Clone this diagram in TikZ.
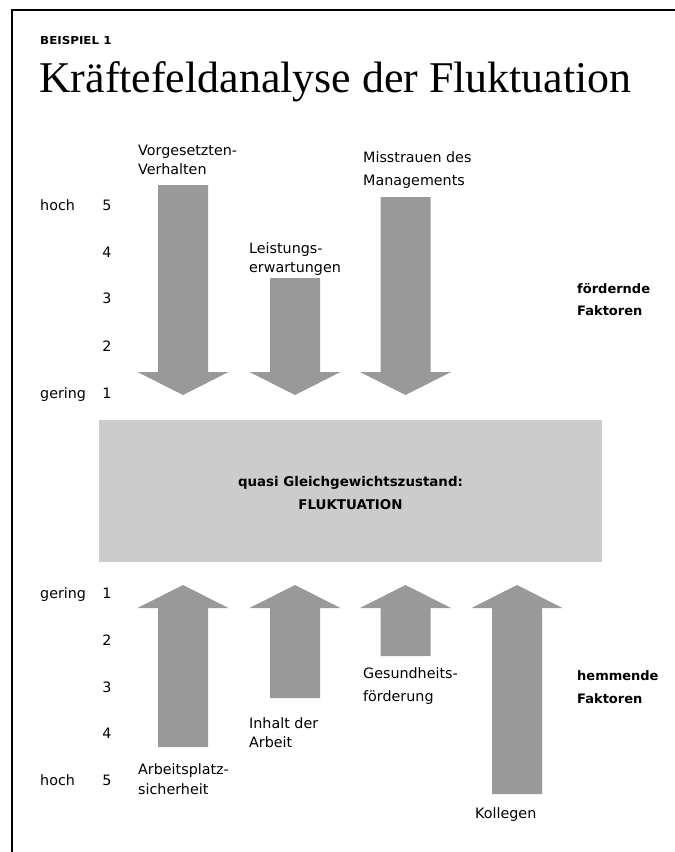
\documentclass[tikz,border=0pt]{standalone}
\usepackage{fontspec}
\setmainfont{Liberation Serif}
\setsansfont{DejaVu Sans}
\definecolor{arrowgray}{HTML}{999999}
\definecolor{boxgray}{HTML}{CCCCCC}
\newcommand\fkdownarrow[2]{%
  \fill[arrowgray] (#1-25,#2) -- (#1+25,#2) -- (#1+25,372) -- (#1+45.5,372)
    -- (#1,395) -- (#1-45.5,372) -- (#1-25,372) -- cycle;}
\newcommand\fkuparrow[2]{%
  \fill[arrowgray] (#1-25,#2) -- (#1+25,#2) -- (#1+25,608) -- (#1+45.5,608)
    -- (#1,585) -- (#1-45.5,608) -- (#1-25,608) -- cycle;}
\tikzset{
  lbl/.style={anchor=base west, inner sep=0pt, font=\sffamily\fontsize{14.3}{17}\selectfont},
  num/.style={anchor=base, inner sep=0pt, font=\sffamily\fontsize{14.3}{17}\selectfont},
  blbl/.style={anchor=base west, inner sep=0pt, font=\sffamily\bfseries\fontsize{13}{16}\selectfont},
  ctr/.style={anchor=base, inner sep=0pt, font=\sffamily\bfseries\fontsize{13.4}{16}\selectfont},
}
\begin{document}
\begin{tikzpicture}[x=1pt,y=-1pt]
\useasboundingbox (0,0) rectangle (675,852);
% frame
\draw[line width=1.2pt] (12,852) -- (12,10) -- (675,10);
% titles
\node[anchor=base west, inner sep=0pt] (kicker) at (40,44)
  {\scalebox{1.08}[1]{\sffamily\bfseries\fontsize{11}{13}\selectfont BEISPIEL 1}};
\node[anchor=base west, inner sep=0pt, font=\fontsize{43.9}{50}\selectfont] (title) at (39,92)
  {Kräftefeldanalyse der Fluktuation};
% top scale
\node[lbl] (th) at (40,210) {hoch};
\node[num] (t5) at (107,210) {5};
\node[num] (t4) at (107,257) {4};
\node[num] (t3) at (107,303) {3};
\node[num] (t2) at (107,351) {2};
\node[lbl] (tg) at (40,398) {gering};
\node[num] (t1) at (107,398) {1};
% top arrows
\fkdownarrow{183}{185}
\fkdownarrow{295}{278}
\fkdownarrow{405.5}{197}
\node[lbl] (a1a) at (138,155) {Vorgesetzten-};
\node[lbl] (a1b) at (138,174) {Verhalten};
\node[lbl] (a2a) at (249,253) {Leistungs-};
\node[lbl] (a2b) at (249,272) {erwartungen};
\node[lbl] (a3a) at (363,162) {Misstrauen des};
\node[lbl] (a3b) at (363,185) {Managements};
\node[blbl] (fa) at (577,293) {fördernde};
\node[blbl] (fb) at (577,315) {Faktoren};
% center box
\fill[boxgray] (99,420) rectangle (602,562);
\node[ctr] (ca) at (350.5,486) {quasi Gleichgewichtszustand:};
\node[ctr] (cb) at (350.5,509) {FLUKTUATION};
% bottom scale
\node[lbl] (bg) at (40,598) {gering};
\node[num] (b1) at (107,598) {1};
\node[num] (b2) at (107,645) {2};
\node[num] (b3) at (107,692) {3};
\node[num] (b4) at (107,738) {4};
\node[lbl] (bh) at (40,785) {hoch};
\node[num] (b5) at (107,785) {5};
% bottom arrows
\fkuparrow{183}{747}
\fkuparrow{295}{698}
\fkuparrow{405.5}{656}
\fkuparrow{517}{794}
\node[lbl] (u1a) at (138,774) {Arbeitsplatz-};
\node[lbl] (u1b) at (138,794) {sicherheit};
\node[lbl] (u2a) at (249,728) {Inhalt der};
\node[lbl] (u2b) at (249,747) {Arbeit};
\node[lbl] (u3a) at (363,678) {Gesundheits-};
\node[lbl] (u3b) at (363,701) {förderung};
\node[lbl] (u4) at (475,818) {Kollegen};
\node[blbl] (ha) at (577,680) {hemmende};
\node[blbl] (hb) at (577,703) {Faktoren};
\end{tikzpicture}
\end{document}
